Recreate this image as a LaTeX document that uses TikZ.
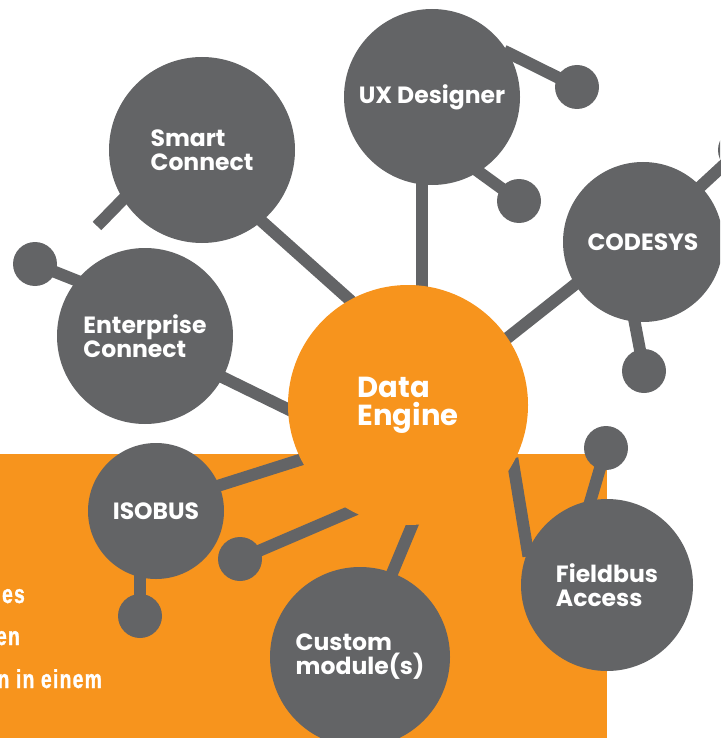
\documentclass[tikz,border=0pt]{standalone}
\usepackage{fontspec}
\usepackage{tikz}
\newfontfamily\sidefont[FakeStretch=0.74,LetterSpace=5,FakeBold=1.2]{Liberation Sans Bold}
\newfontfamily\hubfam{Poppins}
\newcommand\hubfont{\hubfam\bfseries\fontsize{23.5}{24}\selectfont}
\newcommand\corefont{\hubfam\bfseries\fontsize{29}{28}\selectfont}
\definecolor{dgray}{RGB}{99,100,102}
\definecolor{dorange}{RGB}{247,148,29}
\pgfdeclarelayer{back}
\pgfdeclarelayer{mid}
\pgfsetlayers{back,mid,main}

\begin{document}
\begin{tikzpicture}[x=1pt,y=-1pt,hub/.style={circle,fill=dgray,text=white,inner sep=0pt,minimum size=#1,align=left,font=\hubfont},dot/.style={circle,fill=dgray,inner sep=0pt,minimum size=44pt},spoke/.style={draw=dgray,line width=12pt,shorten <=-5pt,shorten >=-5pt},side/.style={text=white,inner sep=0pt,font=\fontsize{26}{26}\sidefont}]
\useasboundingbox (0,0) rectangle (720,738);
\clip (0,0) rectangle (720,738);
\begin{pgfonlayer}{back}
\fill[dorange] (0,454) rectangle (607,738);
\end{pgfonlayer}
% text on the orange panel
\node[side,anchor=base east] (txtA) at (25,603) {es};
\node[side,anchor=base east] (txtB) at (20,645) {en};
\node[side,anchor=base east] (txtC) at (102,688) {n in einem};
% modules
\node[hub=240,fill=dorange,font=\corefont] (de) at (408,405) {Data\\Engine};
\node[hub=176] (ux) at (432,97) {UX Designer};
\node[hub=186] (smart) at (202,150) {Smart\\Connect};
\node[hub=176] (ent) at (145,336) {Enterprise\\Connect};
\node[hub=160] (cod) at (643,242) {CODESYS};
\node[hub=136] (iso) at (156,511) {ISOBUS};
\node[hub=180] (cust) at (360,657) {Custom\\module(s)};
\node[hub=172] (fb) at (607,585) {Fieldbus\\Access};
% end points
\node[dot] (uxdotA) at (577,87) {};
\node[dot] (uxdotB) at (519,201) {};
\node[dot] (coddotA) at (740,150) {};
\node[dot] (coddotB) at (644,371) {};
\node[dot] (entdot) at (35,264) {};
\node[dot] (isodot) at (140,616) {};
\node[dot] (dedot) at (240,559) {};
\node[dot] (fbdot) at (606,448) {};
\coordinate (smartend) at (97,226);
\begin{pgfonlayer}{mid}
\draw[spoke] (ux.south -| 422,0) -- (de.north -| 422,0);
\draw[spoke] (smart.-50) -- (de.119);
\draw[spoke] (ent.-28) -- (de.182);
\draw[spoke] (cod.212) -- (de.34);
\draw[spoke] (iso.22) -- (de.207);
\draw[spoke] (dedot) -- (de.242);
\draw[spoke] (cust.69) -- (de.272);
\draw[spoke] (fb.157) -- (de.-29);
\draw[spoke] (fbdot) -- (fb.101);
\draw[spoke] (isodot) -- (isodot |- iso);
\draw[spoke] (entdot) -- (ent.141);
\draw[spoke,shorten >=0pt] (smart.212) -- (smartend);
\draw[spoke] (ux.30) -- (uxdotA);
\draw[spoke] (ux.-58) -- (uxdotB);
\draw[spoke] (cod.44) -- (coddotA);
\draw[spoke] (cod.264) -- (coddotB);
\end{pgfonlayer}
\end{tikzpicture}
\end{document}
